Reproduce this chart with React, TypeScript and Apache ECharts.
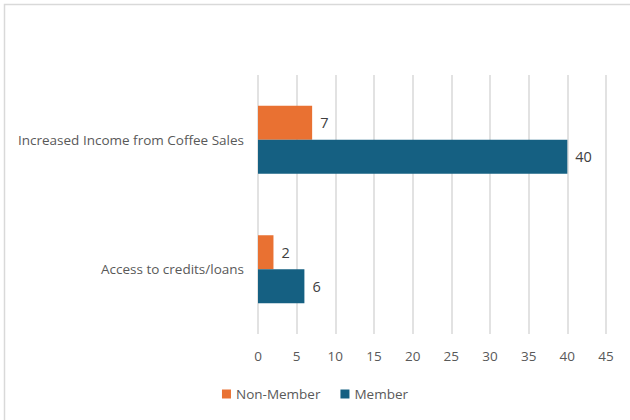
import React, { useEffect, useRef } from "react";
import * as echarts from "echarts";

const categories = ["Access to credits/loans", "Increased Income from Coffee Sales"];
const nonMember = [2, 7];
const member = [6, 40];
const xTicks = { min: 0, max: 45, interval: 5 };

const FONT = "'Open Sans', sans-serif";

export default function App() {
  const ref = useRef<HTMLDivElement>(null);
  useEffect(() => {
    if (!ref.current) return;
    const chart = echarts.init(ref.current, undefined, { renderer: "svg" });
    chart.setOption({
      animation: false,
      backgroundColor: "#ffffff",
      textStyle: { fontFamily: FONT },
      graphic: [
        {
          type: "rect",
          shape: { x: 4.5, y: 4.5, width: 800, height: 600 },
          style: { fill: "none", stroke: "#d9d9d9", lineWidth: 1.5 },
          silent: true,
        },
      ],
      grid: { left: 258, right: 24, top: 75, bottom: 86, containLabel: false },
      legend: {
        data: ["Non-Member", "Member"],
        bottom: 14,
        left: "center",
        itemWidth: 9,
        itemHeight: 9,
        itemGap: 20,
        icon: "rect",
        textStyle: { color: "#595959", fontSize: 13.5, fontFamily: FONT },
      },
      xAxis: {
        type: "value",
        min: xTicks.min,
        max: xTicks.max,
        interval: xTicks.interval,
        axisLine: { show: false },
        axisTick: { show: false },
        splitLine: { lineStyle: { color: "#d9d9d9", width: 1.5 } },
        axisLabel: { color: "#595959", fontSize: 13.5, margin: 15, fontFamily: FONT },
      },
      yAxis: {
        type: "category",
        data: categories,
        axisLine: { show: false },
        axisTick: { show: false },
        axisLabel: { color: "#595959", fontSize: 13.5, margin: 14, fontFamily: FONT },
      },
      series: [
        {
          name: "Non-Member",
          type: "bar",
          data: nonMember,
          barWidth: 34,
          barGap: "0%",
          itemStyle: { color: "#E97132" },
          label: { show: true, position: "right", distance: 8, color: "#404040", fontSize: 14.5, fontFamily: FONT },
        },
        {
          name: "Member",
          type: "bar",
          data: member,
          barWidth: 34,
          barGap: "0%",
          itemStyle: { color: "#156082" },
          label: { show: true, position: "right", distance: 8, color: "#404040", fontSize: 14.5, fontFamily: FONT },
        },
      ],
    });
    return () => chart.dispose();
  }, []);
  return (
    <div
      ref={ref}
      style={{ position: "fixed", left: 0, top: 0, width: 630, height: 420 }}
    />
  );
}
